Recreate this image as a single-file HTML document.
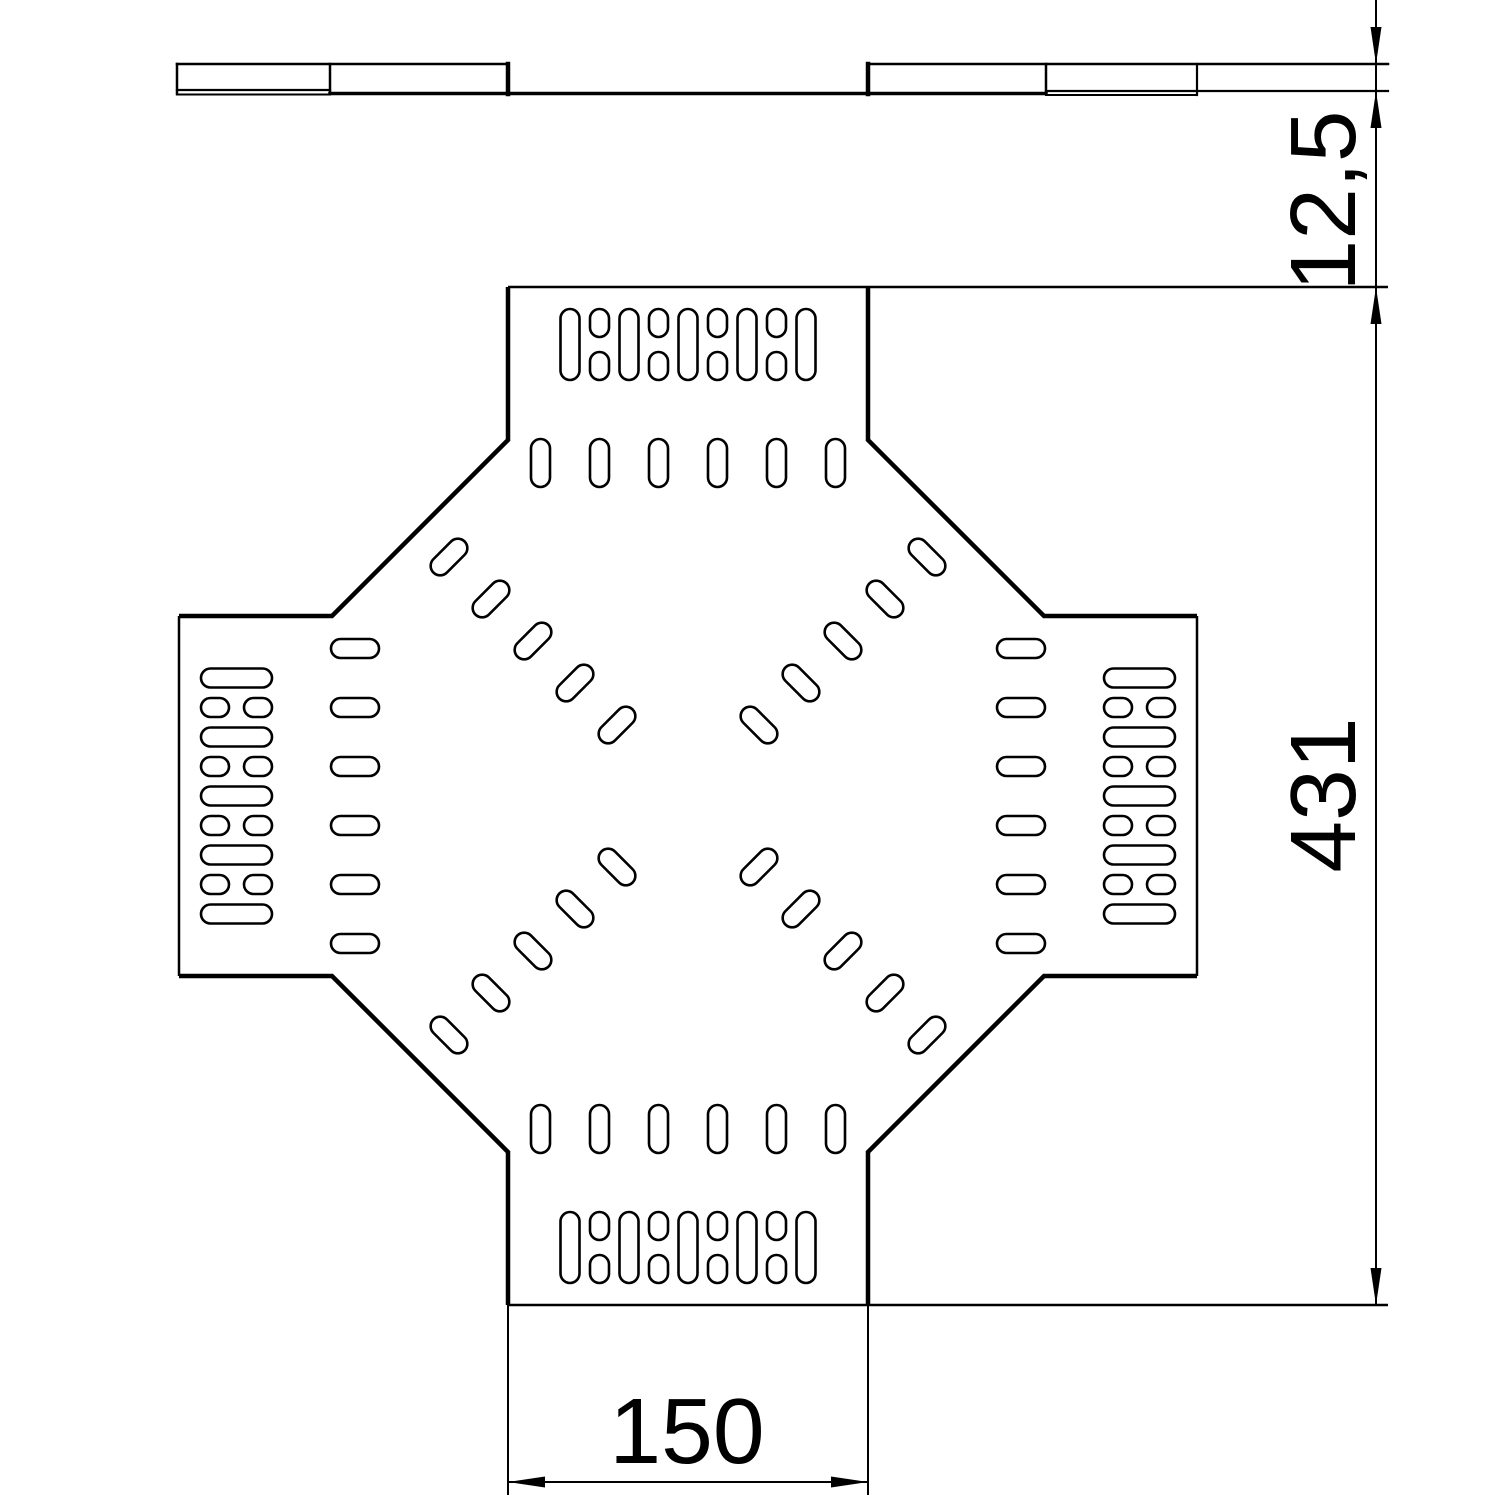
<!DOCTYPE html>
<html>
<head>
<meta charset="utf-8">
<style>
  html, body { margin: 0; padding: 0; background: #fff; }
  svg { display: block; }
  text { font-family: "Liberation Sans", Arial, sans-serif; fill: #000; }
</style>
</head>
<body>
<svg width="1500" height="1500" viewBox="0 0 1500 1500" xmlns="http://www.w3.org/2000/svg">
  <rect x="0" y="0" width="1500" height="1500" fill="#fff"/>

  <!-- ===== Side view (top) ===== -->
  <g fill="none" stroke="#000" stroke-linecap="square">
    <!-- left part -->
    <line x1="177" y1="64" x2="508" y2="64" stroke-width="2.5"/>
    <line x1="177" y1="64" x2="177" y2="94" stroke-width="2.5"/>
    <line x1="177" y1="90" x2="330" y2="90" stroke-width="2.2"/>
    <line x1="177" y1="94.5" x2="330" y2="94.5" stroke-width="2"/>
    <line x1="330" y1="64" x2="330" y2="94" stroke-width="2.5"/>
    <line x1="330" y1="93.5" x2="1046" y2="93.5" stroke-width="3.5"/>
    <line x1="508" y1="64" x2="508" y2="94" stroke-width="4.5"/>
    <!-- right part -->
    <line x1="868" y1="64" x2="868" y2="94" stroke-width="4.5"/>
    <line x1="868" y1="64" x2="1388" y2="64" stroke-width="2.5"/>
    <line x1="1046" y1="64" x2="1046" y2="94" stroke-width="2.5"/>
    <line x1="1046" y1="91" x2="1388" y2="91" stroke-width="2.2"/>
    <line x1="1046" y1="95" x2="1197" y2="95" stroke-width="2"/>
    <line x1="1197" y1="64" x2="1197" y2="95" stroke-width="2.2"/>
  </g>

  <!-- ===== Top view outline ===== -->
  <g fill="none" stroke="#000" stroke-linejoin="miter" stroke-linecap="butt">
    <line x1="508" y1="287" x2="1388" y2="287" stroke-width="2.5"/>
    <line x1="508" y1="1305" x2="1388" y2="1305" stroke-width="2.5"/>
    <line x1="179" y1="616" x2="179" y2="976" stroke-width="2.5"/>
    <line x1="1197" y1="616" x2="1197" y2="976" stroke-width="2.5"/>
    <polyline points="508,287 508,440 332,616 179,616" stroke-width="4.5"/>
    <polyline points="868,287 868,440 1044,616 1197,616" stroke-width="4.5"/>
    <polyline points="1197,976 1044,976 868,1152 868,1305" stroke-width="4.5"/>
    <polyline points="508,1305 508,1152 332,976 179,976" stroke-width="4.5"/>
  </g>

  <!-- ===== Slots ===== -->
  <defs>
    <g id="arm" fill="none" stroke="#000" stroke-width="2.6">
      <rect x="-127.5" y="-487" width="19" height="71" rx="9.5"/>
      <rect x="-68.5" y="-487" width="19" height="71" rx="9.5"/>
      <rect x="-9.5" y="-487" width="19" height="71" rx="9.5"/>
      <rect x="49.5" y="-487" width="19" height="71" rx="9.5"/>
      <rect x="108.5" y="-487" width="19" height="71" rx="9.5"/>
      <rect x="-98" y="-487" width="19" height="28" rx="9.5"/>
      <rect x="-98" y="-444" width="19" height="28" rx="9.5"/>
      <rect x="-39" y="-487" width="19" height="28" rx="9.5"/>
      <rect x="-39" y="-444" width="19" height="28" rx="9.5"/>
      <rect x="20" y="-487" width="19" height="28" rx="9.5"/>
      <rect x="20" y="-444" width="19" height="28" rx="9.5"/>
      <rect x="79" y="-487" width="19" height="28" rx="9.5"/>
      <rect x="79" y="-444" width="19" height="28" rx="9.5"/>
      <rect x="-157" y="-357" width="19" height="48" rx="9.5"/>
      <rect x="-98" y="-357" width="19" height="48" rx="9.5"/>
      <rect x="-39" y="-357" width="19" height="48" rx="9.5"/>
      <rect x="20" y="-357" width="19" height="48" rx="9.5"/>
      <rect x="79" y="-357" width="19" height="48" rx="9.5"/>
      <rect x="138" y="-357" width="19" height="48" rx="9.5"/>
    </g>
    <g id="diag" fill="none" stroke="#000" stroke-width="2.6">
      <rect x="-9.5" y="-22" width="19" height="44" rx="9.5" transform="translate(-71,-71) rotate(45)"/>
      <rect x="-9.5" y="-22" width="19" height="44" rx="9.5" transform="translate(-113,-113) rotate(45)"/>
      <rect x="-9.5" y="-22" width="19" height="44" rx="9.5" transform="translate(-155,-155) rotate(45)"/>
      <rect x="-9.5" y="-22" width="19" height="44" rx="9.5" transform="translate(-197,-197) rotate(45)"/>
      <rect x="-9.5" y="-22" width="19" height="44" rx="9.5" transform="translate(-239,-239) rotate(45)"/>
    </g>
  </defs>

  <g transform="translate(688,796)">
    <use href="#arm"/>
    <use href="#arm" transform="rotate(90)"/>
    <use href="#arm" transform="rotate(180)"/>
    <use href="#arm" transform="rotate(270)"/>
    <use href="#diag"/>
    <use href="#diag" transform="rotate(90)"/>
    <use href="#diag" transform="rotate(180)"/>
    <use href="#diag" transform="rotate(270)"/>
  </g>

  <!-- ===== Right dimension line ===== -->
  <line x1="1376" y1="0" x2="1376" y2="1305" stroke="#000" stroke-width="2"/>
  <g fill="#000" stroke="none">
    <polygon points="1376,64 1370.5,27 1381.5,27"/>
    <polygon points="1376,91 1370.5,128 1381.5,128"/>
    <polygon points="1376,287 1370.5,324 1381.5,324"/>
    <polygon points="1376,1305 1370.5,1268 1381.5,1268"/>
  </g>
  <text font-size="93" text-anchor="middle" transform="translate(1355,201) rotate(-90)">12,5</text>
  <text font-size="93" text-anchor="middle" transform="translate(1355,795) rotate(-90)">431</text>

  <!-- ===== Bottom dimension line ===== -->
  <g stroke="#000" stroke-width="2">
    <line x1="508" y1="1305" x2="508" y2="1495"/>
    <line x1="868" y1="1305" x2="868" y2="1495"/>
    <line x1="508" y1="1482" x2="868" y2="1482"/>
  </g>
  <g fill="#000" stroke="none">
    <polygon points="508,1482 545,1476.5 545,1487.5"/>
    <polygon points="868,1482 831,1476.5 831,1487.5"/>
  </g>
  <text font-size="93" text-anchor="middle" x="687" y="1463">150</text>
</svg>
</body>
</html>
